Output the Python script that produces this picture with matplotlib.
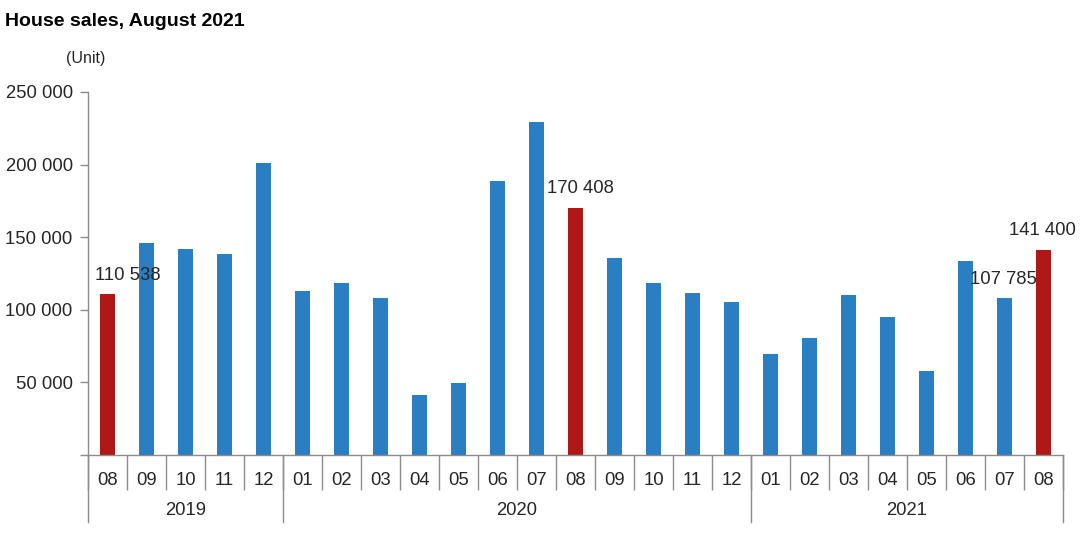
import matplotlib
matplotlib.use("Agg")
import matplotlib.pyplot as plt

plt.rcParams['font.family'] = ['Liberation Sans', 'DejaVu Sans']

months = ["08", "09", "10", "11", "12",
          "01", "02", "03", "04", "05", "06", "07", "08", "09", "10", "11", "12",
          "01", "02", "03", "04", "05", "06", "07", "08"]
years = ["2019", "2020", "2021"]
year_counts = [5, 12, 8]
sales = [110538, 146100, 142000, 138100, 201400,
         113000, 118300, 108100, 41400, 49900, 189000, 229000, 170408,
         136000, 118500, 111600, 105200,
         69800, 80500, 110200, 95000, 57700, 133700, 107785, 141400]
highlight = [0, 12, 24]
labelled = [0, 12, 23, 24]
yticks = [0, 50000, 100000, 150000, 200000, 250000]

BLUE = "#2A7EC2"
RED = "#B01818"
GRID = "#8c8c8c"
TXT = "#262626"

fig = plt.figure(figsize=(10.8, 5.35), dpi=100)
ax = fig.add_axes([88 / 1080, 1 - 455 / 535, 975 / 1080, 363 / 535])

n = len(sales)
xs = list(range(n))
colors = [RED if i in highlight else BLUE for i in xs]
ax.bar(xs, sales, width=0.39, color=colors, zorder=2)

ax.set_xlim(-0.5, n - 0.5)
ax.set_ylim(0, 250000)

def fmt(v):
    return f"{v:,}".replace(",", " ")

ax.set_yticks(yticks)
ax.set_yticklabels([fmt(v) if v else "" for v in yticks], fontsize=13.3, color=TXT)
ax.tick_params(axis='y', length=6, color=GRID, width=1, direction='out', pad=5)

# month separators as major ticks, month labels as minor ticks
ax.set_xticks([i - 0.5 for i in range(n + 1)])
ax.set_xticklabels([""] * (n + 1))
ax.tick_params(axis='x', which='major', length=25, color=GRID, width=1, direction='out')
ax.set_xticks(xs, minor=True)
ax.set_xticklabels(months, minor=True, fontsize=13.3, color=TXT)
ax.tick_params(axis='x', which='minor', length=0, pad=12)

for s in ['top', 'right']:
    ax.spines[s].set_visible(False)
for s in ['left', 'bottom']:
    ax.spines[s].set_color(GRID)
    ax.spines[s].set_linewidth(1)

# year separators and year labels
trans = ax.get_xaxis_transform()
start = 0
bounds = [-0.5]
for y, c in zip(years, year_counts):
    end = start + c
    ax.text((start + end - 1) / 2, -0.152, y, transform=trans, ha='center', va='center',
            fontsize=13.3, color=TXT)
    bounds.append(end - 0.5)
    start = end
for b in bounds:
    ax.plot([b, b], [0, -0.185], transform=trans, color=GRID, lw=1, clip_on=False)

# value labels
offsets = {0: 20, 12: 5, 23: -1, 24: -1}
for i in labelled:
    ax.annotate(fmt(sales[i]), (xs[i], sales[i]), xytext=(offsets[i] * 0.72, 14),
                textcoords='offset points', ha='center', va='center',
                fontsize=13.3, color=TXT, zorder=3)

fig.text(5 / 1080, 1 - 21 / 535, "House sales, August 2021", fontsize=14,
         fontweight='bold', ha='left', va='center', color='black')
fig.text(86 / 1080, 1 - 58 / 535, "(Unit)", fontsize=11.5, ha='center', va='center', color=TXT)

fig.savefig("out.png", dpi=100)
